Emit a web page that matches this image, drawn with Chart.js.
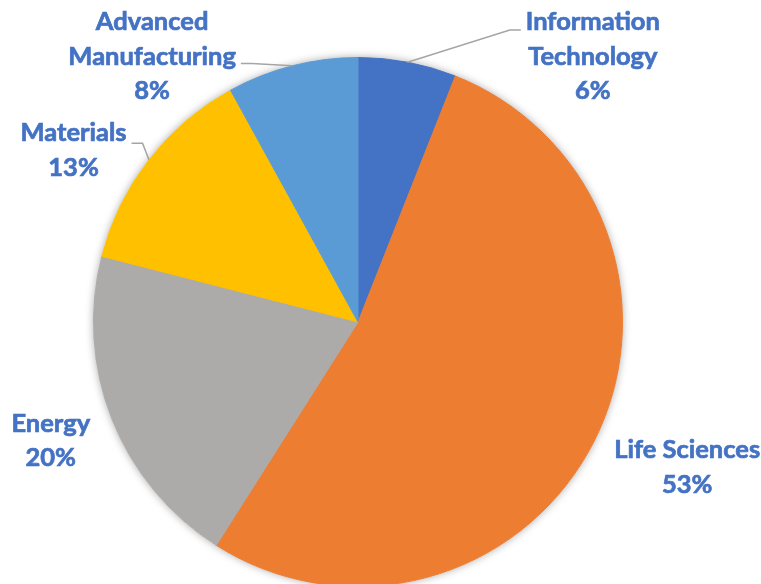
<!DOCTYPE html>
<html>
<head>
<meta charset="utf-8">
<script src="https://cdn.jsdelivr.net/npm/chart.js@4.4.0/dist/chart.umd.min.js"></script>
<style>
html, body { margin: 0; padding: 0; background: #fff; overflow: hidden; }
#wrap { width: 761px; height: 620px; }
</style>
</head>
<body>
<div id="wrap"><canvas id="myChart" width="761" height="620"></canvas></div>
<script>
// sectors, clockwise from 12 o'clock
let categories = ['Information Technology', 'Life Sciences', 'Energy', 'Materials', 'Advanced Manufacturing'];
let shares = [6, 53, 20, 13, 8];
let sliceColors = ['#4472C4', '#ED7D31', '#ADAAAA', '#FFC000', '#5B9BD5'];

// label placement: angle (deg, clockwise from top) and distance in radii from the centre
let labelSpots = [
    {angle: 41.5, dist: 1.34, wrap: true, leader: {side: 'left', line: 0, drop: 8}},
    {angle: 113.8, dist: 1.36, wrap: false},
    {angle: 248.9, dist: 1.245, wrap: false},
    {angle: 301.1, dist: 1.256, wrap: false, leader: {side: 'right', line: 0, drop: 10}},
    {angle: 322.2, dist: 1.27, wrap: true, leader: {side: 'right', line: 1, drop: 7}}
];

let labelFont = 'bold 25.5px Lato';
let labelColor = '#4472C4';
let lineH = 34.5;

// soft shadow under the whole pie
const pieShadow = {
    id: 'pieShadow',
    beforeDatasetsDraw(chart) {
        const arc = chart.getDatasetMeta(0).data[0];
        const ctx = chart.ctx;
        ctx.save();
        ctx.shadowColor = 'rgba(0,0,0,0.35)';
        ctx.shadowBlur = 9;
        ctx.fillStyle = '#ffffff';
        ctx.beginPath();
        ctx.arc(arc.x, arc.y, arc.outerRadius, 0, Math.PI * 2);
        ctx.fill();
        ctx.restore();
    }
};

const sliceLabels = {
    id: 'sliceLabels',
    afterDatasetsDraw(chart) {
        const ctx = chart.ctx;
        const arcs = chart.getDatasetMeta(0).data;
        const total = shares.reduce((a, b) => a + b, 0);
        ctx.save();
        ctx.font = labelFont;
        ctx.textAlign = 'center';
        ctx.textBaseline = 'middle';
        arcs.forEach((arc, i) => {
            const spot = labelSpots[i];
            const r = arc.outerRadius;
            const a = spot.angle * Math.PI / 180;
            const cx = arc.x + Math.sin(a) * r * spot.dist;
            const cy = arc.y - Math.cos(a) * r * spot.dist;
            let lines = spot.wrap ? categories[i].split(' ') : [categories[i]];
            lines = lines.concat(Math.round(shares[i] / total * 100) + '%');
            const top = cy - (lines.length - 1) * lineH / 2;

            if (spot.leader) {
                const mid = (arc.startAngle + arc.endAngle) / 2;
                const ex = arc.x + Math.cos(mid) * r;
                const ey = arc.y + Math.sin(mid) * r;
                const w = ctx.measureText(lines[spot.leader.line]).width;
                const dir = spot.leader.side === 'left' ? -1 : 1;
                const lx = cx + dir * (w / 2 + 5);
                const ly = top + spot.leader.line * lineH + spot.leader.drop;
                ctx.strokeStyle = '#A5A5A5';
                ctx.lineWidth = 1.5;
                ctx.beginPath();
                ctx.moveTo(lx, ly);
                ctx.lineTo(lx + dir * 11, ly);
                ctx.lineTo(ex, ey);
                ctx.stroke();
            }

            ctx.fillStyle = labelColor;
            ctx.strokeStyle = labelColor;
            ctx.lineWidth = 0.7;
            lines.forEach((t, k) => {
                ctx.fillText(t, cx, top + k * lineH);
                ctx.strokeText(t, cx, top + k * lineH);
            });
        });
        ctx.restore();
    }
};

let ctx = document.getElementById('myChart').getContext('2d');
let chart = new Chart(ctx, {
    type: 'pie',
    data: {
        labels: categories,
        datasets: [{
            data: shares,
            backgroundColor: sliceColors,
            borderColor: sliceColors,
            borderWidth: 1
        }]
    },
    options: {
        responsive: false,
        animation: false,
        layout: {padding: {top: 57, left: 93, right: 138, bottom: 33}},
        plugins: {
            legend: {display: false},
            tooltip: {enabled: false}
        }
    },
    plugins: [pieShadow, sliceLabels]
});
</script>
</body>
</html>
